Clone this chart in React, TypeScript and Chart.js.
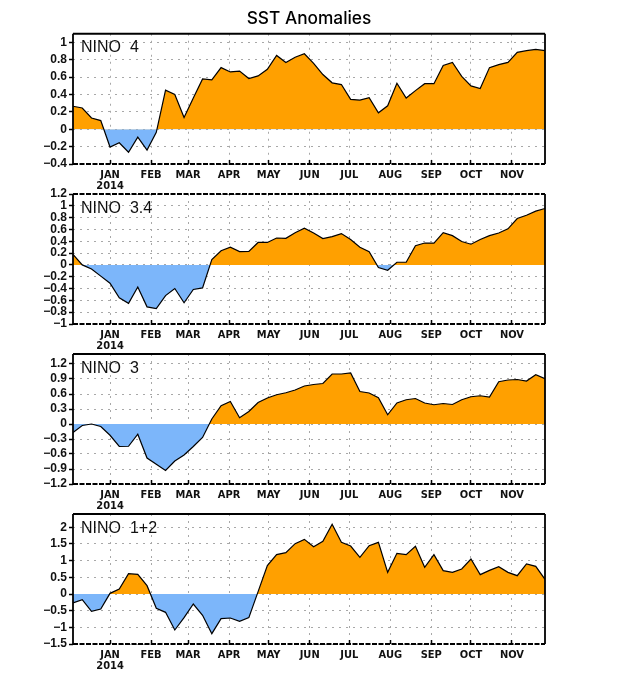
import React, { useRef, useEffect } from 'react';
import { Chart, registerables } from 'chart.js';

Chart.register(...registerables);

// weekly values, first week is 4 Dec 2013
const nino4 = [
    0.265, 0.245, 0.13, 0.1, -0.205, -0.155, -0.265, -0.09, -0.24, -0.035, 0.45, 0.4, 0.135,
    0.36, 0.58, 0.57, 0.71, 0.66, 0.67, 0.585, 0.615, 0.69, 0.85, 0.77, 0.83, 0.87,
    0.76, 0.63, 0.535, 0.515, 0.345, 0.335, 0.365, 0.19, 0.27, 0.53, 0.36, 0.445, 0.525,
    0.525, 0.735, 0.77, 0.61, 0.5, 0.47, 0.71, 0.745, 0.77, 0.885, 0.905, 0.92, 0.905,
];
const nino34 = [
    0.18, 0.0, -0.07, -0.19, -0.31, -0.555, -0.65, -0.375, -0.71, -0.74, -0.52, -0.4, -0.64,
    -0.415, -0.39, 0.09, 0.24, 0.3, 0.225, 0.23, 0.38, 0.38, 0.455, 0.45, 0.545, 0.62,
    0.54, 0.445, 0.48, 0.53, 0.43, 0.3, 0.225, -0.045, -0.09, 0.045, 0.045, 0.325, 0.37,
    0.37, 0.545, 0.495, 0.395, 0.35, 0.43, 0.495, 0.54, 0.61, 0.785, 0.84, 0.91, 0.955,
];
const nino3 = [
    -0.17, -0.03, 0.0, -0.05, -0.225, -0.45, -0.445, -0.205, -0.68, -0.805, -0.93, -0.74, -0.62,
    -0.45, -0.27, 0.1, 0.365, 0.45, 0.125, 0.25, 0.43, 0.52, 0.585, 0.625, 0.68, 0.76,
    0.79, 0.81, 1.0, 1.0, 1.02, 0.65, 0.62, 0.525, 0.185, 0.42, 0.485, 0.51, 0.42,
    0.385, 0.41, 0.39, 0.485, 0.545, 0.565, 0.54, 0.845, 0.88, 0.89, 0.86, 0.985, 0.905,
];
const nino12 = [
    -0.27, -0.17, -0.52, -0.45, 0.02, 0.15, 0.61, 0.59, 0.25, -0.43, -0.55, -1.08, -0.71,
    -0.3, -0.64, -1.19, -0.74, -0.72, -0.82, -0.71, 0.07, 0.85, 1.18, 1.24, 1.51, 1.64,
    1.42, 1.58, 2.09, 1.55, 1.44, 1.1, 1.45, 1.55, 0.65, 1.22, 1.18, 1.43, 0.8,
    1.18, 0.7, 0.65, 0.75, 1.05, 0.58, 0.71, 0.82, 0.65, 0.55, 0.9, 0.83, 0.44,
];

// days since 1 Jan 2014
const monthDays = [0, 31, 59, 90, 120, 151, 181, 212, 243, 273, 304];
const monthNames = ['JAN', 'FEB', 'MAR', 'APR', 'MAY', 'JUN', 'JUL', 'AUG', 'SEP', 'OCT', 'NOV'];

const FIRST_DAY = -28;
const LAST_DAY = 329;

const panelFrame = {
    id: 'panelFrame',
    afterDraw(chart: any, _args: any, opts: any) {
        const { ctx, chartArea: a } = chart;
        ctx.save();
        ctx.strokeStyle = '#000';
        ctx.lineWidth = 1.8;
        ctx.beginPath();
        ctx.moveTo(a.left, a.top);
        ctx.lineTo(a.left, a.bottom);
        ctx.moveTo(a.right, a.top);
        ctx.lineTo(a.right, a.bottom);
        ctx.stroke();

        ctx.setLineDash(opts.dashedTop ? [5, 1.5] : []);
        ctx.beginPath();
        ctx.moveTo(a.left, a.top);
        ctx.lineTo(a.right, a.top);
        ctx.stroke();

        ctx.setLineDash([5, 1.5]);
        ctx.beginPath();
        ctx.moveTo(a.left, a.bottom);
        ctx.lineTo(a.right, a.bottom);
        ctx.stroke();

        ctx.setLineDash([]);
        ctx.fillStyle = '#111';
        ctx.font = '16px "Liberation Sans"';
        ctx.textBaseline = 'alphabetic';
        ctx.fillText(opts.label, a.left + 8, a.top + 18.6);
        ctx.restore();
    },
};

interface PanelProps {
    label: string;
    values: number[];
    min: number;
    max: number;
    step: number;
    top: number;
    height: number;
    paddingTop: number;
    title?: string;
    dashedTop?: boolean;
}

const Panel: React.FC<PanelProps> = ({ label, values, min, max, step, top, height, paddingTop, title, dashedTop }) => {
    const canvasRef = useRef<HTMLCanvasElement>(null);

    useEffect(() => {
        if (!canvasRef.current) return;
        const chart = new Chart(canvasRef.current, {
            type: 'line',
            data: {
                datasets: [{
                    data: values.map((y, i) => ({ x: FIRST_DAY + i * 7, y })),
                    borderColor: '#000',
                    borderWidth: 1.2,
                    pointRadius: 0,
                    tension: 0,
                    fill: { target: { value: 0 }, above: '#ffa000', below: '#7cb6fa' },
                }],
            },
            options: {
                animation: false,
                responsive: false,
                layout: { padding: { left: 0, right: 0, top: paddingTop, bottom: 0 } },
                plugins: {
                    legend: { display: false },
                    tooltip: { enabled: false },
                    title: {
                        display: !!title,
                        text: title,
                        color: '#000',
                        font: { family: 'Inter, "DejaVu Sans"', size: 17.3, weight: '500', lineHeight: 1.2 },
                        padding: { top: 8, bottom: 5 },
                    },
                    panelFrame: { label, dashedTop },
                } as any,
                scales: {
                    x: {
                        type: 'linear',
                        min: FIRST_DAY,
                        max: LAST_DAY,
                        afterBuildTicks: (scale: any) => {
                            scale.ticks = monthDays.map((value) => ({ value }));
                        },
                        afterFit: (scale: any) => {
                            scale.height = 31;
                        },
                        border: { display: false, dash: [2, 5] },
                        grid: { color: '#a8a8a8', tickColor: '#000', tickWidth: 1.5, tickLength: -4 },
                        ticks: {
                            autoSkip: false,
                            maxRotation: 0,
                            minRotation: 0,
                            padding: 10,
                            color: '#111',
                            font: { family: '"DejaVu Sans Condensed", "Liberation Sans"', size: 11, weight: 'bold', lineHeight: 1 },
                            callback: (v: any) => {
                                const name = monthNames[monthDays.indexOf(v)];
                                return name === 'JAN' ? [name, '2014'] : name;
                            },
                        },
                    },
                    y: {
                        min,
                        max,
                        afterFit: (scale: any) => {
                            scale.width = 73;
                        },
                        border: { display: false, dash: [2, 5] },
                        grid: { color: '#a8a8a8', tickColor: '#000', tickWidth: 1.5, tickLength: 4 },
                        ticks: {
                            autoSkip: false,
                            stepSize: step,
                            includeBounds: false,
                            padding: 2,
                            color: '#111',
                            font: { family: '"Liberation Sans"', size: 12, weight: 'bold' },
                            callback: (v: any) => {
                                const n = Number(Number(v).toFixed(1));
                                return n < 0 ? '\u2212' + Math.abs(n) : String(n);
                            },
                        },
                    },
                    // empty axis, only keeps the right margin so the title stays centred on the page
                    y2: {
                        position: 'right',
                        afterFit: (scale: any) => {
                            scale.width = 73;
                        },
                        border: { display: false },
                        grid: { display: false },
                        ticks: { display: false },
                    },
                },
            },
            plugins: [panelFrame],
        } as any);
        return () => chart.destroy();
    }, []);

    return (
        <canvas
            ref={canvasRef}
            width={618}
            height={height}
            style={{ position: 'absolute', left: 0, top, display: 'block' }}
        />
    );
};

export default function App() {
    return (
        <div style={{ position: 'absolute', left: 0, top: 0, width: 618, height: 681, background: '#fff' }}>
            <Panel label="NINO  4" values={nino4} min={-0.4} max={1.1} step={0.2} top={0} height={195} paddingTop={0} title="SST Anomalies" />
            <Panel label="NINO  3.4" values={nino34} min={-1} max={1.2} step={0.2} top={184} height={171} paddingTop={10} dashedTop />
            <Panel label="NINO  3" values={nino3} min={-1.2} max={1.4} step={0.3} top={344} height={171} paddingTop={10} />
            <Panel label="NINO  1+2" values={nino12} min={-1.5} max={2.4} step={0.5} top={504} height={171} paddingTop={10} />
        </div>
    );
}
